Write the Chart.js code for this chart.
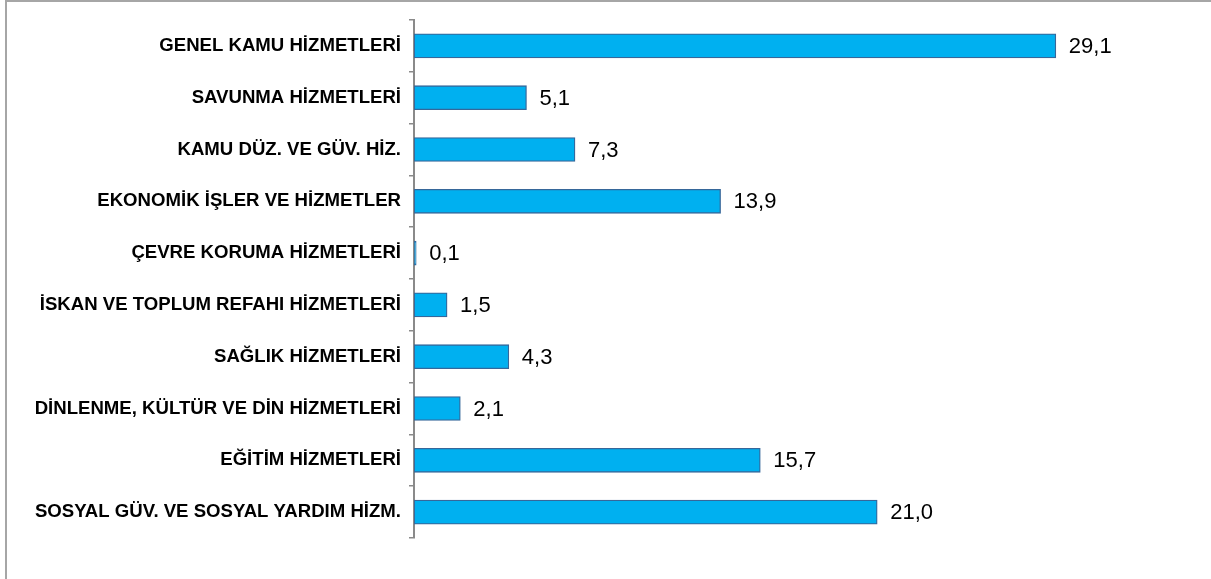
<!DOCTYPE html>
<html>
<head>
<meta charset="utf-8">
<script src="https://cdn.jsdelivr.net/npm/chart.js@4/dist/chart.umd.min.js"></script>
<style>
html,body{margin:0;padding:0;background:#fff;}
#wrap{width:1211px;height:579px;position:relative;}
</style>
</head>
<body>
<div id="wrap"><canvas id="c" width="1211" height="579"></canvas></div>
<script>
const categories = [
  "GENEL KAMU HİZMETLERİ",
  "SAVUNMA HİZMETLERİ",
  "KAMU DÜZ. VE GÜV. HİZ.",
  "EKONOMİK İŞLER VE HİZMETLER",
  "ÇEVRE KORUMA HİZMETLERİ",
  "İSKAN VE TOPLUM REFAHI HİZMETLERİ",
  "SAĞLIK HİZMETLERİ",
  "DİNLENME, KÜLTÜR VE DİN HİZMETLERİ",
  "EĞİTİM HİZMETLERİ",
  "SOSYAL GÜV. VE SOSYAL YARDIM HİZM."
];
const shares = [29.1, 5.1, 7.3, 13.9, 0.1, 1.5, 4.3, 2.1, 15.7, 21.0];

const framePlugin = {
  id: 'frame',
  beforeDraw(chart) {
    const ctx = chart.ctx;
    ctx.save();
    ctx.fillStyle = '#a6a6a6';
    ctx.fillRect(5, 0, 2, chart.height);
    ctx.fillRect(5, 0, chart.width - 5, 2);
    ctx.restore();
  }
};

const valueLabels = {
  id: 'valueLabels',
  afterDatasetsDraw(chart) {
    const ctx = chart.ctx;
    const meta = chart.getDatasetMeta(0);
    ctx.save();
    ctx.font = '22px "Liberation Sans", Arial, sans-serif';
    ctx.fillStyle = '#000';
    ctx.textAlign = 'left';
    ctx.textBaseline = 'middle';
    meta.data.forEach((bar, i) => {
      const v = chart.data.datasets[0].data[i];
      ctx.fillText(v.toFixed(1).replace('.', ','), bar.x + 13, bar.y + 1);
    });
    ctx.restore();
  }
};

new Chart(document.getElementById('c'), {
  type: 'bar',
  data: {
    labels: categories,
    datasets: [{
      data: shares,
      backgroundColor: '#00B0F0',
      borderColor: '#36679A',
      borderWidth: 1.3,
      borderSkipped: false,
      barThickness: 24
    }]
  },
  options: {
    indexAxis: 'y',
    responsive: false,
    animation: false,
    layout: { padding: { top: 20, bottom: 41, left: 0, right: 25 } },
    plugins: { legend: { display: false }, tooltip: { enabled: false } },
    scales: {
      x: { display: false, min: 0, max: 35 },
      y: {
        afterFit(scale) { scale.width = 414; },
        grid: { display: true, drawOnChartArea: false, drawTicks: true, tickLength: 5, color: '#8a8a8a', lineWidth: 1.5, offset: true },
        border: { display: true, color: '#8a8a8a', width: 2 },
        ticks: {
          color: '#000',
          padding: 8,
          font: { family: '"Liberation Sans", Arial, sans-serif', size: 18.6, weight: 'bold' }
        }
      }
    }
  },
  plugins: [framePlugin, valueLabels]
});
</script>
</body>
</html>
